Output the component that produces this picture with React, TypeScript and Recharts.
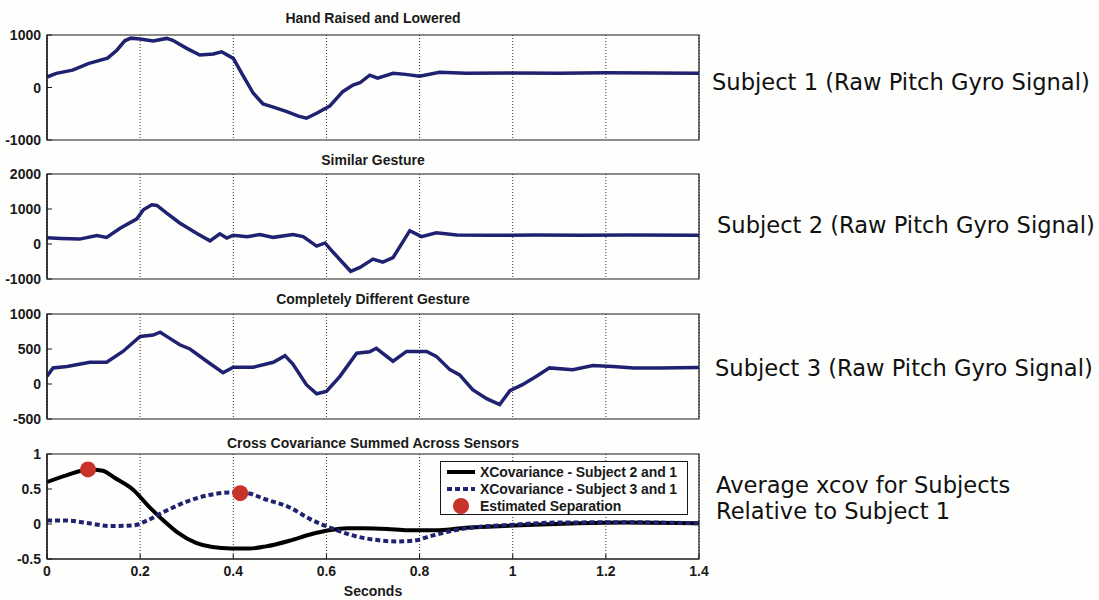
import React from 'react';
import { ComposedChart, Line, Scatter, XAxis, YAxis, CartesianGrid, Legend, ReferenceArea } from 'recharts';

// time axis shared by all four panels (seconds)
const TIME_TICKS = [0, 0.2, 0.4, 0.6, 0.8, 1, 1.2, 1.4];

// Subject 1 raw pitch gyro
const subject1Time = [0, 0.02, 0.055, 0.09, 0.13, 0.15, 0.167, 0.18, 0.2, 0.228, 0.257, 0.27, 0.3, 0.328, 0.357, 0.375, 0.4, 0.42, 0.443, 0.464, 0.486, 0.515, 0.54, 0.557, 0.579, 0.607, 0.635, 0.657, 0.672, 0.693, 0.71, 0.743, 0.77, 0.8, 0.843, 0.9, 1.0, 1.1, 1.2, 1.3, 1.4];
const subject1Pitch = [200, 270, 330, 460, 560, 710, 890, 940, 925, 885, 935, 900, 745, 620, 640, 680, 555, 240, -110, -315, -375, -460, -545, -585, -490, -355, -80, 45, 90, 235, 180, 270, 250, 215, 290, 270, 275, 270, 280, 275, 270];

// Subject 2 raw pitch gyro
const subject2Time = [0, 0.03, 0.07, 0.107, 0.128, 0.157, 0.193, 0.207, 0.225, 0.236, 0.257, 0.285, 0.322, 0.35, 0.371, 0.386, 0.4, 0.43, 0.457, 0.486, 0.528, 0.55, 0.579, 0.597, 0.614, 0.652, 0.672, 0.7, 0.721, 0.743, 0.779, 0.804, 0.836, 0.88, 0.95, 1.05, 1.15, 1.25, 1.4];
const subject2Pitch = [180, 160, 140, 240, 190, 450, 720, 980, 1120, 1100, 880, 600, 300, 90, 290, 170, 250, 210, 270, 190, 270, 210, -60, 30, -230, -780, -670, -430, -520, -390, 380, 210, 320, 255, 250, 255, 250, 255, 250];

// Subject 3 raw pitch gyro
const subject3Time = [0, 0.013, 0.043, 0.092, 0.128, 0.163, 0.2, 0.228, 0.243, 0.257, 0.285, 0.307, 0.343, 0.378, 0.4, 0.443, 0.486, 0.511, 0.528, 0.557, 0.579, 0.6, 0.629, 0.665, 0.693, 0.707, 0.743, 0.772, 0.815, 0.836, 0.865, 0.886, 0.914, 0.944, 0.972, 0.994, 1.021, 1.051, 1.079, 1.129, 1.172, 1.215, 1.26, 1.315, 1.4];
const subject3Pitch = [110, 230, 250, 310, 310, 465, 680, 700, 740, 680, 560, 500, 325, 160, 240, 240, 310, 405, 285, -10, -140, -105, 110, 440, 460, 510, 325, 465, 465, 395, 205, 130, -80, -210, -295, -95, -10, 110, 230, 205, 265, 250, 230, 230, 235];

// cross covariance, summed across sensors
const xcov21Time = [0, 0.04, 0.09, 0.12, 0.145, 0.185, 0.22, 0.25, 0.28, 0.32, 0.355, 0.395, 0.435, 0.47, 0.52, 0.565, 0.605, 0.645, 0.68, 0.73, 0.775, 0.835, 0.89, 0.945, 1.045, 1.14, 1.24, 1.4];
const xcov21Value = [0.6, 0.69, 0.78, 0.76, 0.66, 0.49, 0.24, 0.05, -0.12, -0.27, -0.33, -0.35, -0.35, -0.32, -0.24, -0.15, -0.09, -0.06, -0.06, -0.07, -0.09, -0.09, -0.06, -0.04, -0.01, 0.01, 0.02, 0.01];
const xcov31Time = [0, 0.04, 0.09, 0.135, 0.185, 0.215, 0.25, 0.3, 0.345, 0.395, 0.43, 0.47, 0.52, 0.565, 0.615, 0.66, 0.71, 0.75, 0.785, 0.825, 0.875, 0.93, 1.0, 1.09, 1.24, 1.4];
const xcov31Value = [0.05, 0.05, 0.01, -0.03, -0.02, 0.05, 0.17, 0.32, 0.41, 0.45, 0.44, 0.35, 0.24, 0.07, -0.07, -0.17, -0.23, -0.25, -0.24, -0.17, -0.09, -0.04, -0.01, 0.02, 0.025, 0.01];
const separationTime = [0.088, 0.415];
const separationValue = [0.78, 0.44];

const PANEL_TITLES = ['Hand Raised and Lowered', 'Similar Gesture', 'Completely Different Gesture', 'Cross Covariance Summed Across Sensors'];
const LEGEND_LABELS = ['XCovariance - Subject 2 and 1', 'XCovariance - Subject 3 and 1', 'Estimated Separation'];

const toRows = (ts: number[], vs: number[]) => ts.map((t, i) => ({ t, v: vs[i] }));

const FONT = '"Liberation Sans", Arial, Helvetica, sans-serif';
const SIDE_FONT = '"DejaVu Sans", Verdana, sans-serif';
const INK = '#1a1a1a';
const NAVY = '#1f2270';
const RED = '#c9322b';
const TICK = -5; // MATLAB style: ticks point into the plot
const CHART_W = 720;
const PLOT_LEFT = 47;
const PLOT_RIGHT = 699;
const PAD = 12;

const tickText = { fontFamily: FONT, fontWeight: 700, fontSize: 14, fill: INK } as const;
const frameLine = { stroke: INK, strokeWidth: 1.2 };
const tickLine = { stroke: INK, strokeWidth: 1 };

const bottomLabel = (p: any) => (
  <text x={p.x} y={p.y} dy="0.71em" textAnchor="middle" {...tickText}>{String(p.payload.value)}</text>
);
const leftLabel = (p: any) => (
  <text x={p.x} y={p.y} dy="0.36em" textAnchor="end" {...tickText}>{String(p.payload.value)}</text>
);
const noLabel = () => <g />;

type PanelProps = {
  top: number;
  plotHeight: number;
  domain: [number, number];
  ticks: number[];
  xLabels?: boolean;
  children: React.ReactNode;
};

function Panel({ top, plotHeight, domain, ticks, xLabels = false, children }: PanelProps) {
  const axisH = xLabels ? 30 : 0;
  const height = plotHeight + 2 * PAD + axisH;
  return (
    <div style={{ position: 'absolute', left: 0, top: top - PAD }}>
      <ComposedChart width={CHART_W} height={height}
        margin={{ top: PAD, right: CHART_W - PLOT_RIGHT, bottom: PAD, left: 0 }}>
        <CartesianGrid horizontal={false} stroke="#333" strokeDasharray="1 2" />
        <XAxis dataKey="t" type="number" domain={[0, 1.4]} ticks={TIME_TICKS} interval={0} allowDataOverflow
          height={axisH} tickSize={TICK} tickMargin={12} tick={xLabels ? bottomLabel : noLabel}
          tickLine={tickLine} axisLine={frameLine} />
        <XAxis xAxisId="top" orientation="top" dataKey="t" type="number" domain={[0, 1.4]} ticks={TIME_TICKS} interval={0}
          allowDataOverflow height={0} tickSize={TICK} tick={noLabel} tickLine={tickLine} axisLine={frameLine} />
        <YAxis dataKey="v" type="number" domain={domain} ticks={ticks} interval={0} allowDataOverflow width={PLOT_LEFT}
          tickSize={TICK} tickMargin={11} tick={leftLabel} tickLine={tickLine} axisLine={frameLine} />
        <YAxis yAxisId="r" orientation="right" type="number" domain={domain} ticks={ticks} interval={0} allowDataOverflow
          width={0} tickSize={TICK} tick={noLabel} tickLine={tickLine} axisLine={frameLine} />
        <ReferenceArea x1={0} x2={1.4} y1={domain[0]} y2={domain[1]} fill="none" stroke={INK} strokeWidth={1.2}
          ifOverflow="visible" />
        {children}
      </ComposedChart>
    </div>
  );
}

function XcovLegend() {
  const samples = [
    <line x1={2} x2={30} y1={8} y2={8} stroke="#000" strokeWidth={4} />,
    <line x1={2} x2={30} y1={8} y2={8} stroke={NAVY} strokeWidth={4} strokeDasharray="5 3" />,
    <circle cx={16} cy={8} r={8} fill={RED} />,
  ];
  return (
    <div style={{ width: 248, height: 54, border: `1.5px solid ${INK}`, background: '#fff', boxSizing: 'border-box', padding: '1px 0 0 4px' }}>
      {LEGEND_LABELS.map((label, i) => (
        <div key={label} style={{ display: 'flex', alignItems: 'center', height: 17 }}>
          <svg width={32} height={16} style={{ overflow: 'visible' }}>{samples[i]}</svg>
          <span style={{ marginLeft: 3, fontFamily: FONT, fontWeight: 700, fontSize: 14, color: INK, whiteSpace: 'nowrap', letterSpacing: -0.1 }}>{label}</span>
        </div>
      ))}
    </div>
  );
}

const titleStyle = (y: number): React.CSSProperties => ({
  position: 'absolute', left: PLOT_LEFT, width: PLOT_RIGHT - PLOT_LEFT, top: y - 8, height: 16, lineHeight: '16px',
  textAlign: 'center', fontFamily: FONT, fontWeight: 700, fontSize: 14, color: INK, whiteSpace: 'nowrap',
});
const sideStyle = (x: number, y: number): React.CSSProperties => ({
  position: 'absolute', left: x, top: y - 13, height: 26, lineHeight: '26px', fontFamily: SIDE_FONT, fontSize: 22.6,
  color: '#111', whiteSpace: 'nowrap',
});

export default function App() {
  const s1 = toRows(subject1Time, subject1Pitch);
  const s2 = toRows(subject2Time, subject2Pitch);
  const s3 = toRows(subject3Time, subject3Pitch);
  const c21 = toRows(xcov21Time, xcov21Value);
  const c31 = toRows(xcov31Time, xcov31Value);
  const sep = toRows(separationTime, separationValue);

  return (
    <div style={{ position: 'absolute', left: 0, top: 0, width: 1099, height: 600, background: '#fefefc', overflow: 'hidden' }}>
      <div style={{ position: 'absolute', left: 0, top: 0, width: 712, height: 600, overflow: 'hidden' }}>
        <Panel top={35} plotHeight={105} domain={[-1000, 1000]} ticks={[-1000, 0, 1000]}>
          <Line data={s1} dataKey="v" type="linear" stroke={NAVY} strokeWidth={3.5} dot={false} isAnimationActive={false} />
        </Panel>
        <Panel top={174} plotHeight={105} domain={[-1000, 2000]} ticks={[-1000, 0, 1000, 2000]}>
          <Line data={s2} dataKey="v" type="linear" stroke={NAVY} strokeWidth={3.5} dot={false} isAnimationActive={false} />
        </Panel>
        <Panel top={314} plotHeight={105} domain={[-500, 1000]} ticks={[-500, 0, 500, 1000]}>
          <Line data={s3} dataKey="v" type="linear" stroke={NAVY} strokeWidth={3.5} dot={false} isAnimationActive={false} />
        </Panel>
        <Panel top={454} plotHeight={105} domain={[-0.5, 1]} ticks={[-0.5, 0, 0.5, 1]} xLabels>
          <Line data={c21} dataKey="v" name={LEGEND_LABELS[0]} type="monotone" stroke="#000" strokeWidth={4} dot={false} isAnimationActive={false} />
          <Line data={c31} dataKey="v" name={LEGEND_LABELS[1]} type="monotone" stroke={NAVY} strokeWidth={4} strokeDasharray="5 3" dot={false} isAnimationActive={false} />
          <Scatter data={sep} dataKey="v" name={LEGEND_LABELS[2]} fill={RED} isAnimationActive={false}
            shape={(p: any) => <circle cx={p.cx} cy={p.cy} r={8} fill={RED} />} />
          <Legend layout="vertical" align="center" verticalAlign="middle" content={() => <XcovLegend />}
            wrapperStyle={{ position: 'absolute', left: 440, top: PAD + 7, width: 250, height: 56 }} />
        </Panel>

        {PANEL_TITLES.map((t, i) => (
          <div key={t} style={titleStyle([18, 160, 299, 443][i])}>{t}</div>
        ))}
        <div style={titleStyle(591)}>Seconds</div>
      </div>

      <div style={sideStyle(712, 82)}>Subject 1 (Raw Pitch Gyro Signal)</div>
      <div style={sideStyle(717, 225)}>Subject 2 (Raw Pitch Gyro Signal)</div>
      <div style={sideStyle(715, 368)}>Subject 3 (Raw Pitch Gyro Signal)</div>
      <div style={sideStyle(716, 485)}>Average xcov for Subjects</div>
      <div style={sideStyle(716, 511)}>Relative to Subject 1</div>
    </div>
  );
}
